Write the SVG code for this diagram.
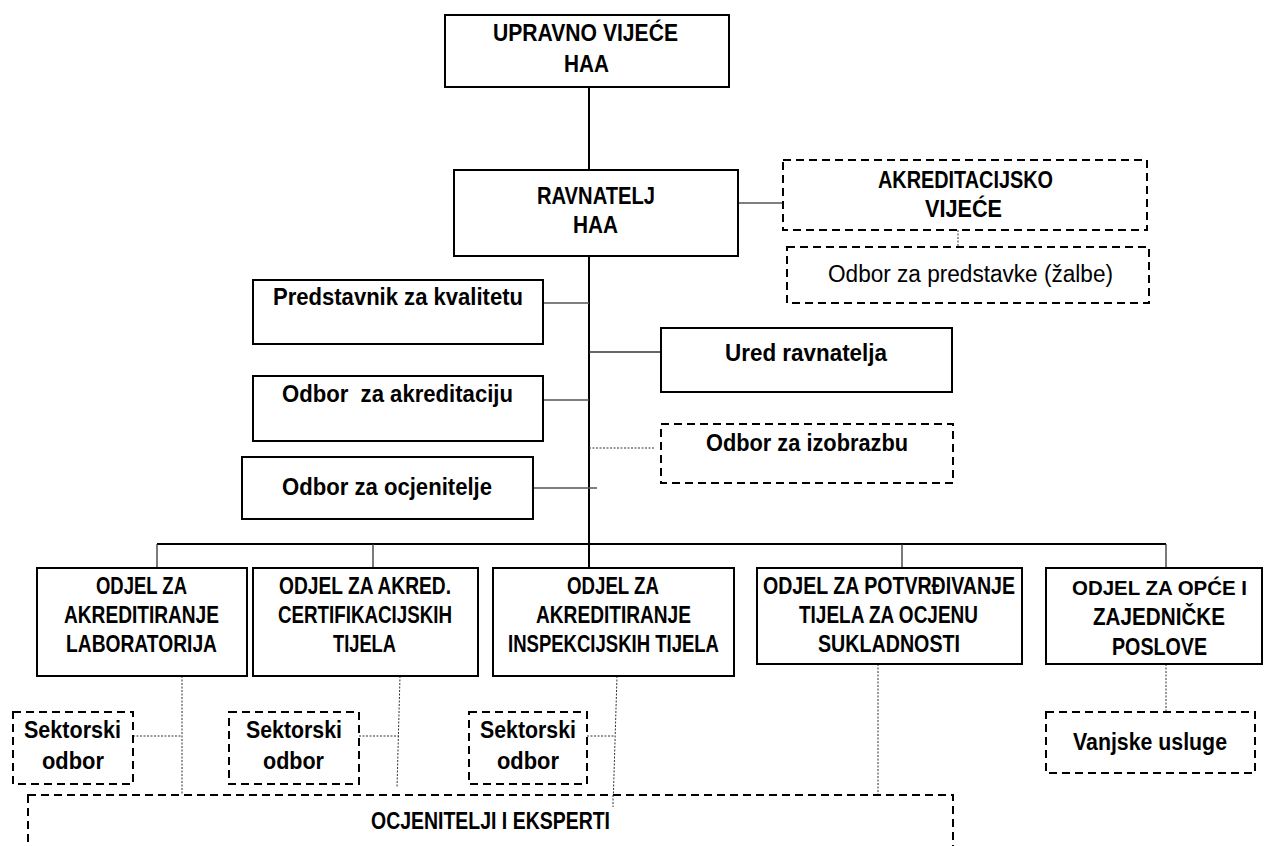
<svg xmlns="http://www.w3.org/2000/svg" width="1264" height="846" viewBox="0 0 1264 846">
<style>
  .box { fill: #fff; stroke: #000; stroke-width: 2; }
  .dbox { fill: #fff; stroke: #000; stroke-width: 2; stroke-dasharray: 8 5; }
  .t { font-family: "Liberation Sans", Arial, sans-serif; font-weight: bold; font-size: 23px; fill: #000; }
  .r { font-family: "Liberation Sans", Arial, sans-serif; font-weight: normal; font-size: 23px; fill: #000; }
  .ln { stroke: #000; stroke-width: 2; fill: none; }
  .thin { stroke: #333; stroke-width: 1.3; fill: none; }
  .grey { stroke: #555; stroke-width: 1.5; fill: none; }
  .dot { stroke: #333; stroke-width: 1; stroke-dasharray: 2 1.5; fill: none; }
</style>
<rect width="1264" height="846" fill="#fff"/>

<g id="connectors">
  <line class="ln" x1="589" y1="87" x2="589" y2="170"/>
  <line class="grey" x1="738" y1="203" x2="783" y2="203"/>
  <line class="dot" x1="958" y1="230" x2="958" y2="247"/>
  <line class="ln" x1="589" y1="256" x2="589" y2="568"/>
  <line class="grey" x1="543" y1="303" x2="589" y2="303"/>
  <line class="thin" x1="589" y1="352" x2="661" y2="352"/>
  <line class="grey" x1="543" y1="400" x2="589" y2="400"/>
  <line class="dot" x1="589" y1="448" x2="655" y2="448"/>
  <line class="grey" x1="533" y1="488" x2="597" y2="488"/>
  <line class="ln" x1="157" y1="544" x2="1166" y2="544"/>
  <line class="thin" x1="157" y1="544" x2="157" y2="568"/>
  <line class="thin" x1="373" y1="544" x2="373" y2="568"/>
  <line class="thin" x1="902" y1="544" x2="902" y2="568"/>
  <line class="thin" x1="1166" y1="544" x2="1166" y2="568"/>
  <line class="dot" x1="182" y1="676" x2="182" y2="795"/>
  <line class="dot" x1="400" y1="676" x2="397" y2="788"/>
  <line class="dot" x1="617" y1="676" x2="613" y2="807"/>
  <line class="dot" x1="878" y1="664" x2="878" y2="795"/>
  <line class="dot" x1="1166" y1="664" x2="1166" y2="712"/>
  <line class="dot" x1="133" y1="736" x2="182" y2="736"/>
  <line class="dot" x1="359" y1="736" x2="399" y2="736"/>
  <line class="dot" x1="587" y1="736" x2="615" y2="736"/>
</g>

<g id="upravno-vijece">
  <rect class="box" x="445" y="15" width="284" height="72"/>
  <text class="t" x="493" y="41" textLength="185" lengthAdjust="spacingAndGlyphs">UPRAVNO VIJEĆE</text>
  <text class="t" x="564" y="72" textLength="45" lengthAdjust="spacingAndGlyphs">HAA</text>
</g>

<g id="ravnatelj">
  <rect class="box" x="454" y="170" width="284" height="86"/>
  <text class="t" x="537" y="204" textLength="118" lengthAdjust="spacingAndGlyphs">RAVNATELJ</text>
  <text class="t" x="573" y="233" textLength="45" lengthAdjust="spacingAndGlyphs">HAA</text>
</g>

<g id="akreditacijsko-vijece">
  <rect class="dbox" x="783" y="160" width="364" height="70"/>
  <text class="t" x="878" y="188" textLength="175" lengthAdjust="spacingAndGlyphs">AKREDITACIJSKO</text>
  <text class="t" x="925" y="217" textLength="77" lengthAdjust="spacingAndGlyphs">VIJEĆE</text>
</g>

<g id="odbor-predstavke">
  <rect class="dbox" x="787" y="247" width="362" height="56"/>
  <text class="r" x="828" y="282" textLength="285" lengthAdjust="spacingAndGlyphs">Odbor za predstavke (žalbe)</text>
</g>

<g id="predstavnik">
  <rect class="box" x="253" y="280" width="290" height="64"/>
  <text class="t" x="273" y="305" textLength="250" lengthAdjust="spacingAndGlyphs">Predstavnik za kvalitetu</text>
</g>

<g id="ured-ravnatelja">
  <rect class="box" x="661" y="328" width="291" height="64"/>
  <text class="t" x="725" y="361" textLength="162" lengthAdjust="spacingAndGlyphs">Ured ravnatelja</text>
</g>

<g id="odbor-akreditaciju">
  <rect class="box" x="253" y="376" width="290" height="65"/>
  <text class="t" x="282" y="402" textLength="231" lengthAdjust="spacingAndGlyphs" xml:space="preserve" style="white-space:pre">Odbor  za akreditaciju</text>
</g>

<g id="odbor-izobrazbu">
  <rect class="dbox" x="661" y="424" width="292" height="59"/>
  <text class="t" x="706" y="451" textLength="202" lengthAdjust="spacingAndGlyphs">Odbor za izobrazbu</text>
</g>

<g id="odbor-ocjenitelje">
  <rect class="box" x="242" y="457" width="291" height="62"/>
  <text class="t" x="282" y="495" textLength="210" lengthAdjust="spacingAndGlyphs">Odbor za ocjenitelje</text>
</g>

<g id="odjel-laboratorija">
  <rect class="box" x="37" y="568" width="210" height="108"/>
  <text class="t" x="96" y="594" textLength="91" lengthAdjust="spacingAndGlyphs">ODJEL ZA</text>
  <text class="t" x="64" y="623" textLength="155" lengthAdjust="spacingAndGlyphs">AKREDITIRANJE</text>
  <text class="t" x="66" y="652" textLength="151" lengthAdjust="spacingAndGlyphs">LABORATORIJA</text>
</g>

<g id="odjel-certifikacijskih">
  <rect class="box" x="253" y="568" width="225" height="108"/>
  <text class="t" x="279" y="594" textLength="172" lengthAdjust="spacingAndGlyphs">ODJEL ZA AKRED.</text>
  <text class="t" x="278" y="623" textLength="174" lengthAdjust="spacingAndGlyphs">CERTIFIKACIJSKIH</text>
  <text class="t" x="333" y="652" textLength="63" lengthAdjust="spacingAndGlyphs">TIJELA</text>
</g>

<g id="odjel-inspekcijskih">
  <rect class="box" x="493" y="568" width="241" height="108"/>
  <text class="t" x="567" y="594" textLength="92" lengthAdjust="spacingAndGlyphs">ODJEL ZA</text>
  <text class="t" x="536" y="623" textLength="155" lengthAdjust="spacingAndGlyphs">AKREDITIRANJE</text>
  <text class="t" x="508" y="652" textLength="211" lengthAdjust="spacingAndGlyphs">INSPEKCIJSKIH TIJELA</text>
</g>

<g id="odjel-potvrdivanje">
  <rect class="box" x="757" y="568" width="265" height="96"/>
  <text class="t" x="763" y="594" textLength="252" lengthAdjust="spacingAndGlyphs">ODJEL ZA POTVRĐIVANJE</text>
  <text class="t" x="799" y="623" textLength="179" lengthAdjust="spacingAndGlyphs">TIJELA ZA OCJENU</text>
  <text class="t" x="818" y="652" textLength="142" lengthAdjust="spacingAndGlyphs">SUKLADNOSTI</text>
</g>

<g id="odjel-opce">
  <rect class="box" x="1046" y="568" width="216" height="96"/>
  <text class="t" x="1072" y="595" textLength="175" lengthAdjust="spacingAndGlyphs" style="font-size:21px">ODJEL ZA OPĆE I</text>
  <text class="t" x="1093" y="625" textLength="132" lengthAdjust="spacingAndGlyphs">ZAJEDNIČKE</text>
  <text class="t" x="1112" y="655" textLength="95" lengthAdjust="spacingAndGlyphs">POSLOVE</text>
</g>

<g id="sektorski-1">
  <rect class="dbox" x="13" y="712" width="120" height="72"/>
  <text class="t" x="24" y="738" textLength="97" lengthAdjust="spacingAndGlyphs">Sektorski</text>
  <text class="t" x="42" y="769" textLength="62" lengthAdjust="spacingAndGlyphs">odbor</text>
</g>

<g id="sektorski-2">
  <rect class="dbox" x="229" y="712" width="130" height="72"/>
  <text class="t" x="246" y="738" textLength="96" lengthAdjust="spacingAndGlyphs">Sektorski</text>
  <text class="t" x="263" y="769" textLength="61" lengthAdjust="spacingAndGlyphs">odbor</text>
</g>

<g id="sektorski-3">
  <rect class="dbox" x="469" y="712" width="118" height="72"/>
  <text class="t" x="480" y="738" textLength="96" lengthAdjust="spacingAndGlyphs">Sektorski</text>
  <text class="t" x="497" y="769" textLength="62" lengthAdjust="spacingAndGlyphs">odbor</text>
</g>

<g id="vanjske-usluge">
  <rect class="dbox" x="1046" y="712" width="209" height="61"/>
  <text class="t" x="1073" y="750" textLength="154" lengthAdjust="spacingAndGlyphs">Vanjske usluge</text>
</g>

<g id="ocjenitelji">
  <rect class="dbox" x="28" y="795" width="925" height="80"/>
  <text class="t" x="371" y="829" textLength="239" lengthAdjust="spacingAndGlyphs">OCJENITELJI I EKSPERTI</text>
</g>

<g id="connectors-overlay">
  <line class="dot" x1="613" y1="795" x2="613" y2="807"/>
</g>
</svg>
